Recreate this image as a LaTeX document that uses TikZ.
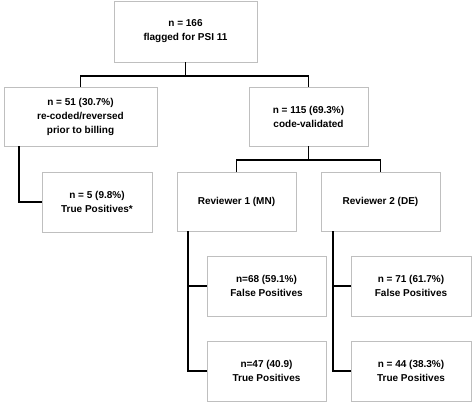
\documentclass[tikz,border=0pt]{standalone}
\usepackage{fontspec}
\setmainfont{Liberation Sans}
\usetikzlibrary{shadows}
\begin{document}
\begin{tikzpicture}[x=1pt,y=1pt,
  box/.style={draw=gray!50, line width=0.7pt, fill=white, align=center, inner sep=0pt,
    font=\bfseries\fontsize{10}{14}\selectfont, text=black,
    drop shadow={shadow xshift=1.3pt, shadow yshift=-1.3pt, fill=gray!50, opacity=0.8}},
  conn/.style={line width=1.7pt, black}]
\useasboundingbox (0,0) rectangle (474,-406);
\node[box, minimum width=143pt, minimum height=61pt] (top) at (185.5,-31.5) {n = 166\\flagged for PSI 11};
\node[box, minimum width=153pt, minimum height=59pt] (left) at (80.5,-116.5) {n = 51 (30.7\%)\\re-coded/reversed\\prior to billing};
\node[box, minimum width=119pt, minimum height=59pt] (right) at (308.5,-116.5) {n = 115 (69.3\%)\\code-validated};
\node[box, minimum width=110pt, minimum height=60pt] (tp) at (97,-202) {n = 5 (9.8\%)\\True Positives*};
\node[box, minimum width=119pt, minimum height=59pt] (r1) at (236.5,-201.5) {Reviewer 1 (MN)};
\node[box, minimum width=119pt, minimum height=59pt] (r2) at (380.5,-201.5) {Reviewer 2 (DE)};
\node[box, minimum width=119pt, minimum height=60pt] (fp1) at (266.5,-286) {n=68 (59.1\%)\\False Positives};
\node[box, minimum width=119pt, minimum height=60pt] (tp1) at (266.5,-371) {n=47 (40.9)\\True Positives};
\node[box, minimum width=120pt, minimum height=60pt] (fp2) at (411,-286) {n = 71 (61.7\%)\\False Positives};
\node[box, minimum width=120pt, minimum height=60pt] (tp2) at (411,-371) {n = 44 (38.3\%)\\True Positives};
\coordinate (j1) at ([yshift=-14pt]top.south);
\draw[conn] (top.south) -- (j1);
\draw[conn] (j1) -| (left.north);
\draw[conn] (j1) -| (right.north);
\draw[conn] ([xshift=15pt]left.south west) |- (tp.west);
\coordinate (j2) at ([yshift=-14pt]right.south);
\draw[conn] (right.south) -- (j2);
\draw[conn] (j2) -| (r1.north);
\draw[conn] (j2) -| (r2.north);
\draw[conn] ([xshift=11pt]r1.south west) |- (fp1.west);
\draw[conn] ([xshift=11pt]r1.south west) |- (tp1.west);
\draw[conn] ([xshift=12pt]r2.south west) |- (fp2.west);
\draw[conn] ([xshift=12pt]r2.south west) |- (tp2.west);
\end{tikzpicture}
\end{document}
